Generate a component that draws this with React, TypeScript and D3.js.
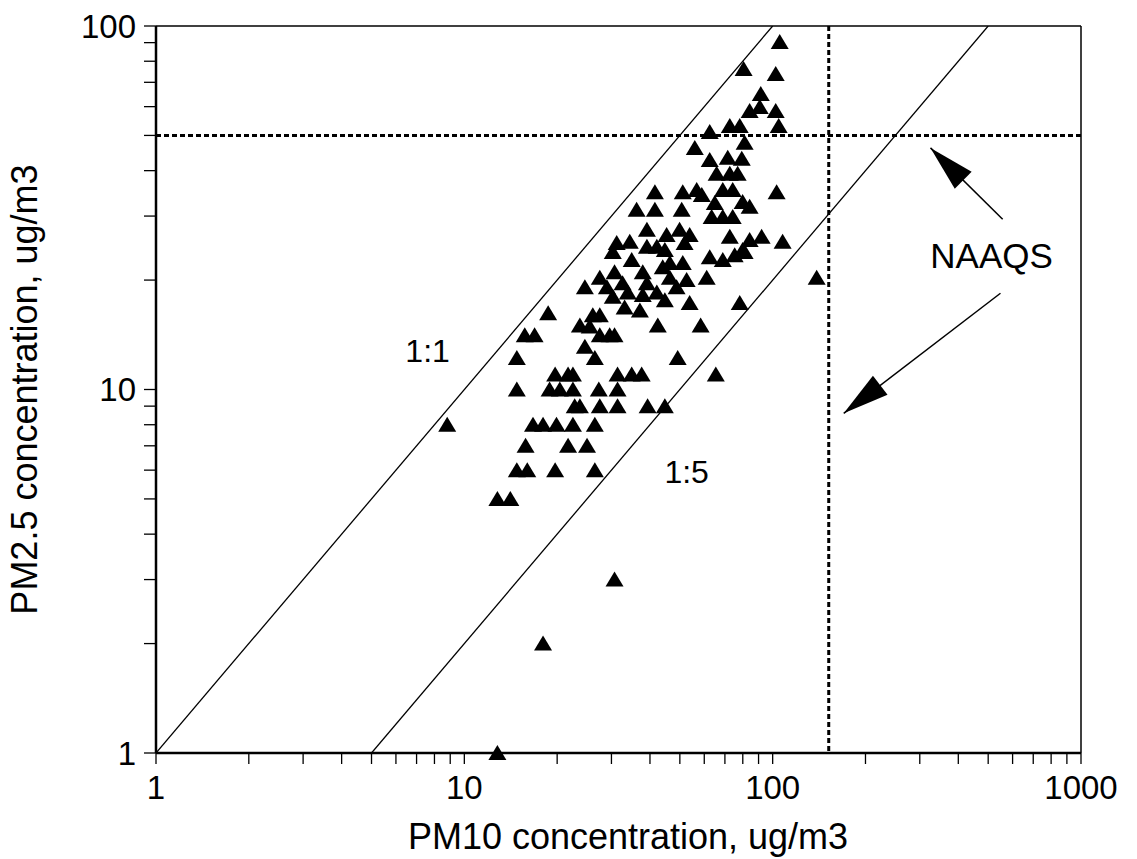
import React from "react";
import * as d3 from "d3";

// PM10 (x) values, ug/m3
const pm10: number[] = [
  105.4, 80.5, 102.3, 91.5, 84.2, 90.8, 102.3, 72.6, 78.2, 104.6,
  62.5, 81.1, 55.9, 62.5, 71.5, 79.4, 65.8, 72.6, 77.0, 41.5,
  51.1, 56.7, 58.9, 68.9, 74.2, 103.0, 64.9, 79.9, 84.2, 36.2,
  41.5, 50.7, 63.4, 68.9, 74.2, 39.1, 45.3, 49.9, 53.8, 51.8,
  72.6, 84.2, 92.1, 107.7, 31.2, 34.4, 39.1, 42.1, 44.7, 62.5,
  68.9, 75.3, 79.9, 34.9, 46.4, 51.1, 30.3, 81.1, 30.7, 27.5,
  24.6, 29.0, 32.6, 37.9, 39.1, 44.0, 46.4, 48.8, 52.6, 61.1,
  30.3, 33.9, 37.9, 42.1, 44.7, 33.1, 37.1, 53.8, 78.2, 18.7,
  23.7, 25.5, 26.1, 27.5, 27.5, 29.6, 30.7, 42.4, 58.4, 15.7,
  16.9, 24.6, 26.5, 14.8, 49.2, 19.7, 21.7, 22.5, 31.4, 34.9,
  37.6, 65.4, 14.8, 18.9, 20.4, 22.5, 27.3, 31.4, 22.8, 23.7,
  27.5, 31.4, 39.3, 44.7, 8.8, 16.7, 18.0, 19.9, 22.5, 26.5,
  15.8, 21.7, 25.0, 14.8, 16.0, 19.7, 26.5, 12.8, 14.1, 30.7,
  18.0, 12.8, 138.9,
];

// PM2.5 (y) values, ug/m3
const pm25: number[] = [
  90.4, 76.1, 73.8, 65.0, 58.4, 59.9, 58.4, 53.1, 53.1, 53.1,
  51.1, 47.7, 46.2, 42.8, 43.4, 43.1, 39.2, 39.2, 39.2, 34.9,
  34.9, 35.4, 34.3, 35.4, 35.4, 34.9, 32.6, 32.8, 31.8, 31.2,
  31.2, 31.2, 29.8, 29.8, 29.8, 27.5, 26.6, 27.5, 26.6, 25.3,
  26.3, 25.8, 26.3, 25.5, 25.3, 25.5, 24.7, 24.7, 24.2, 23.1,
  22.7, 23.4, 24.2, 22.7, 22.3, 22.3, 23.9, 23.9, 21.0, 20.3,
  19.1, 19.1, 19.6, 21.0, 19.6, 21.7, 20.3, 19.1, 20.0, 20.3,
  18.0, 18.5, 18.2, 18.5, 17.6, 16.8, 16.5, 17.3, 17.3, 16.2,
  15.0, 14.9, 16.0, 16.0, 14.1, 14.1, 14.1, 15.0, 15.0, 14.1,
  14.1, 13.1, 12.2, 12.2, 12.2, 11, 11, 11, 11, 11,
  11, 11, 10, 10, 10, 10, 10, 10, 9, 9,
  9, 9, 9, 9, 8, 8, 8, 8, 8, 8,
  7, 7, 7, 6, 6, 6, 6, 5, 5, 3,
  2, 1, 20.3,
];

const xTickValues = [1, 10, 100, 1000];
const xTickLabels = ["1", "10", "100", "1000"];
const yTickValues = [1, 10, 100];
const yTickLabels = ["1", "10", "100"];

const ratioLines = [
  { label: "1:1", ratio: 1, x0: 1, x1: 100, lx: 7.6, ly: 12.8 },
  { label: "1:5", ratio: 5, x0: 5, x1: 500, lx: 52.6, ly: 5.93 },
];

const naaqsPM10 = 152;
const naaqsPM25 = 50;
const naaqsLabel = { text: "NAAQS", x: 513, y: 23.4 };
const arrows = [
  { x0: 557, y0: 29.4, x1: 325, y1: 46.2 },
  { x0: 548, y0: 18.4, x1: 170, y1: 8.6 },
];

const W = 1137;
const H = 859;
const L = 156, R = 1081, T = 26, B = 753;
const FONT = "'Liberation Sans', Arial, Helvetica, sans-serif";

export default function App() {
  const x = d3.scaleLog().domain([1, 1000]).range([L, R]);
  const y = d3.scaleLog().domain([1, 100]).range([B, T]);
  const minorX = x.ticks();
  const minorY = y.ticks();

  const tri = (cx: number, cy: number) => {
    const w = 9, h = 14;
    return `M${cx},${cy - h / 2 - 1}L${cx + w},${cy + h / 2}L${cx - w},${cy + h / 2}Z`;
  };

  const arrowHead = (a: { x0: number; y0: number; x1: number; y1: number }) => {
    const tx = x(a.x1), ty = y(a.y1);
    const dx = tx - x(a.x0), dy = ty - y(a.y0);
    const len = Math.hypot(dx, dy);
    const ux = dx / len, uy = dy / len;
    const bl = 46, hw = 12;
    const bx = tx - ux * bl, by = ty - uy * bl;
    return `M${tx},${ty}L${bx - uy * hw},${by + ux * hw}L${bx + uy * hw},${by - ux * hw}Z`;
  };

  return (
    <svg width={W} height={H} style={{ position: "absolute", left: 0, top: 0, background: "#fff" }}
      fontFamily={FONT}>
      <defs>
        <clipPath id="plot">
          <rect x={L} y={T} width={R - L} height={B - T} />
        </clipPath>
      </defs>
      <rect x={0} y={0} width={W} height={H} fill="#fff" />

      {/* ratio lines */}
      <g clipPath="url(#plot)">
        {ratioLines.map((r) => (
          <line key={r.label} x1={x(r.x0)} y1={y(r.x0 / r.ratio)} x2={x(r.x1)} y2={y(r.x1 / r.ratio)}
            stroke="#000" strokeWidth={1.3} />
        ))}
      </g>
      {ratioLines.map((r) => (
        <text key={r.label + "t"} x={x(r.lx)} y={y(r.ly)} fontSize={32} textAnchor="middle"
          dominantBaseline="central" fill="#000">{r.label}</text>
      ))}

      {/* NAAQS dashed lines */}
      <line x1={L} x2={R} y1={y(naaqsPM25)} y2={y(naaqsPM25)} stroke="#000" strokeWidth={3}
        strokeDasharray="5,3" />
      <line x1={x(naaqsPM10)} x2={x(naaqsPM10)} y1={T} y2={B} stroke="#000" strokeWidth={3}
        strokeDasharray="5,3" />

      {/* points */}
      {pm10.map((v, i) => (
        <path key={i} d={tri(x(v), y(pm25[i]))} fill="#000" />
      ))}

      {/* arrows */}
      {arrows.map((a, i) => (
        <g key={i}>
          <line x1={x(a.x0)} y1={y(a.y0)} x2={x(a.x1)} y2={y(a.y1)} stroke="#000" strokeWidth={1.5} />
          <path d={arrowHead(a)} fill="#000" />
        </g>
      ))}
      <text x={x(naaqsLabel.x)} y={y(naaqsLabel.y)} fontSize={35} textAnchor="middle"
        dominantBaseline="central">{naaqsLabel.text}</text>

      {/* frame */}
      <line x1={L} x2={R} y1={T} y2={T} stroke="#000" strokeWidth={1.5} />
      <line x1={R} x2={R} y1={T} y2={B} stroke="#000" strokeWidth={1.5} />
      <line x1={L} x2={L} y1={T} y2={B} stroke="#000" strokeWidth={2.5} />
      <line x1={L} x2={R} y1={B} y2={B} stroke="#000" strokeWidth={2.5} />

      {/* ticks */}
      {minorX.map((t) => (
        <line key={"xt" + t} x1={x(t)} x2={x(t)} y1={B} y2={B + 11} stroke="#000" strokeWidth={1.3} />
      ))}
      {minorY.map((t) => (
        <line key={"yt" + t} x1={L - 12} x2={L} y1={y(t)} y2={y(t)} stroke="#000" strokeWidth={1.3} />
      ))}
      {xTickValues.map((t, i) => (
        <text key={"xl" + t} x={x(t)} y={787} fontSize={33} textAnchor="middle" dominantBaseline="central">
          {xTickLabels[i]}
        </text>
      ))}
      {yTickValues.map((t, i) => (
        <text key={"yl" + t} x={136} y={y(t)} fontSize={33} textAnchor="end" dominantBaseline="central">
          {yTickLabels[i]}
        </text>
      ))}

      {/* axis titles */}
      <text x={628} y={836} fontSize={36} textAnchor="middle" dominantBaseline="central">
        PM10 concentration, ug/m3
      </text>
      <text transform={`translate(24, ${(T + B) / 2}) rotate(-90)`} fontSize={36} textAnchor="middle"
        dominantBaseline="central">
        PM2.5 concentration, ug/m3
      </text>
    </svg>
  );
}
